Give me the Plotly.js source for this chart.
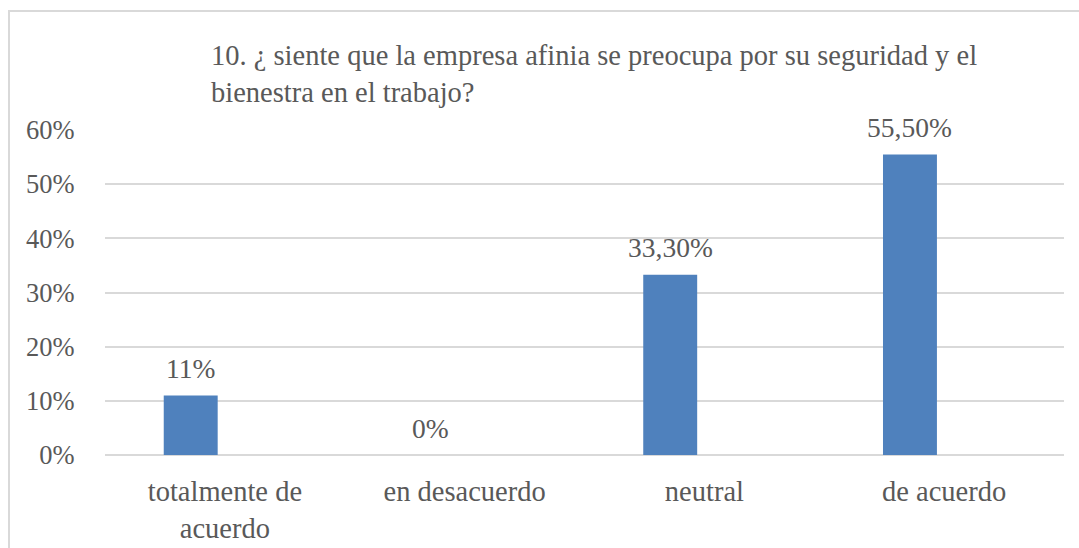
<!DOCTYPE html>
<html>
<head>
<meta charset="utf-8">
<script src="https://cdn.plot.ly/plotly-3.0.1.min.js"></script>
<style>
  html, body { margin: 0; padding: 0; background: #ffffff; }
  #wrap { position: relative; width: 1079px; height: 548px; overflow: hidden; }
  #chart { width: 1079px; height: 548px; }
  #frame { position: absolute; left: 8px; top: 10px; width: 1200px; height: 700px;
           border-left: 2px solid #d9d9d9; border-top: 2px solid #d9d9d9; pointer-events: none; }
</style>
</head>
<body>
<div id="wrap">
  <div id="chart"></div>
  <div id="frame"></div>
</div>
<script>
const categories = ["totalmente de<br>acuerdo", "en desacuerdo", "neutral", "de acuerdo"];
const values = [0.11, 0.0, 0.333, 0.555];
const valueLabels = ["11%", "0%", "33,30%", "55,50%"];
const yTickVals = [0, 0.1, 0.2, 0.3, 0.4, 0.5, 0.6];
const yTickText = ["0%", "10%", "20%", "30%", "40%", "50%", "60%"];
const titleText = "10. ¿ siente que la empresa afinia se preocupa por su seguridad y el<br>bienestra en el trabajo?";

const FONT = "Liberation Serif, Times New Roman, DejaVu Serif, serif";
const TXT = "#595959";
const barWidth = 0.225;
const barOffset = -0.255;

const trace = {
  type: "bar",
  x: categories,
  y: values,
  width: barWidth,
  offset: barOffset,
  marker: { color: "#4f81bd" },
  hoverinfo: "none"
};

const annotations = categories.map((c, i) => ({
  xref: "x", yref: "y",
  x: i + barOffset + barWidth / 2,
  y: values[i],
  text: valueLabels[i],
  showarrow: false,
  xanchor: "center",
  yanchor: "middle",
  yshift: 27,
  font: { family: FONT, size: 27.5, color: TXT }
}));

const layout = {
  width: 1079,
  height: 548,
  paper_bgcolor: "#ffffff",
  plot_bgcolor: "#ffffff",
  margin: { l: 105, r: 15, t: 130, b: 93, pad: 0 },
  showlegend: false,
  title: {
    text: titleText,
    font: { family: FONT, size: 28.5, color: TXT },
    xref: "container", yref: "container",
    x: 211 / 1079, xanchor: "left",
    y: 1 - 65 / 548, yanchor: "top"
  },
  xaxis: {
    type: "category",
    range: [-0.5, 3.5],
    showgrid: false,
    zeroline: false,
    showline: false,
    ticks: "outside",
    ticklen: 11,
    tickcolor: "rgba(0,0,0,0)",
    tickfont: { family: FONT, size: 28.5, color: TXT }
  },
  yaxis: {
    range: [0, 0.6],
    tickvals: yTickVals,
    ticktext: yTickText,
    showgrid: true,
    gridcolor: "#d9d9d9",
    gridwidth: 2,
    zeroline: true,
    zerolinecolor: "#d9d9d9",
    zerolinewidth: 2,
    showline: false,
    ticks: "outside",
    ticklen: 24,
    tickcolor: "rgba(0,0,0,0)",
    tickfont: { family: FONT, size: 26.5, color: TXT }
  },
  annotations: annotations,
  font: { family: FONT, color: TXT }
};

Plotly.newPlot("chart", [trace], layout, { displayModeBar: false, staticPlot: true });
</script>
</body>
</html>
